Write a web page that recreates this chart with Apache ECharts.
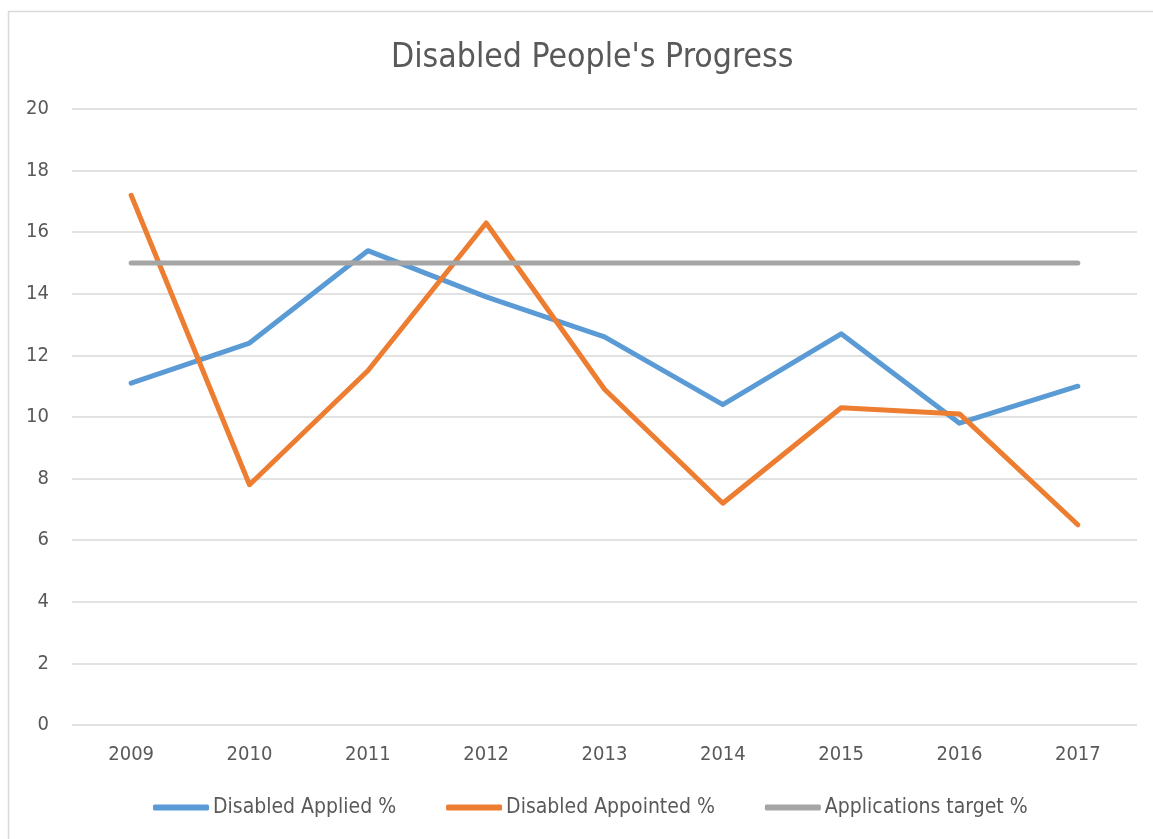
<!DOCTYPE html>
<html>
<head>
<meta charset="utf-8">
<script src="https://cdn.jsdelivr.net/npm/echarts@6/dist/echarts.min.js"></script>
<style>
  html, body { margin: 0; padding: 0; background: #fff; }
  #chart { width: 1153px; height: 839px; }
</style>
</head>
<body>
<div id="chart"></div>
<script>
// Years on the horizontal axis
const years = ['2009', '2010', '2011', '2012', '2013', '2014', '2015', '2016', '2017'];
// Percentages per year
const appliedPct = [11.1, 12.4, 15.4, 13.9, 12.6, 10.4, 12.7, 9.8, 11.0];
const appointedPct = [17.2, 7.8, 11.5, 16.3, 10.9, 7.2, 10.3, 10.1, 6.5];
const targetPct = [15, 15, 15, 15, 15, 15, 15, 15, 15];
const seriesNames = ['Disabled Applied %', 'Disabled Appointed %', 'Applications target %'];
const colors = ['#5B9BD5', '#ED7D31', '#A5A5A5'];

const FONT = '"Liberation Sans Narrow", "DejaVu Sans Condensed", "Noto Sans", sans-serif';
const TEXT = '#595959';

const chart = echarts.init(document.getElementById('chart'), null, { renderer: 'canvas' });

const lineSeries = (name, data, color) => ({
  name, type: 'line', data,
  symbol: 'none',
  lineStyle: { width: 5, color, cap: 'round', join: 'round' },
  itemStyle: { color },
  emphasis: { disabled: true },
  z: 3
});

chart.setOption({
  animation: false,
  backgroundColor: '#fff',
  textStyle: { fontFamily: FONT },
  graphic: [{
    type: 'rect', silent: true, z: -1,
    shape: { x: 8.5, y: 11.5, width: 1200, height: 900 },
    style: { fill: 'none', stroke: '#D9D9D9', lineWidth: 1.5 }
  }],
  title: {
    text: "Disabled People's Progress",
    left: 386, top: 36,
    textStyle: { fontFamily: FONT, fontSize: 33.5, fontWeight: 'normal', color: TEXT }
  },
  legend: {
    bottom: 16, left: 148,
    itemWidth: 56, itemHeight: 6, itemGap: 50,
    icon: 'roundRect',
    textStyle: { fontFamily: FONT, fontSize: 21, color: TEXT, padding: [0, 0, 0, -1] },
    data: seriesNames
  },
  grid: { left: 72, right: 16, top: 109, bottom: 114 },
  xAxis: {
    type: 'category', data: years, boundaryGap: true,
    axisLine: { show: false }, axisTick: { show: false },
    axisLabel: { fontFamily: FONT, fontSize: 20, color: TEXT, margin: 20 }
  },
  yAxis: {
    type: 'value', min: 0, max: 20, interval: 2,
    axisLine: { show: false }, axisTick: { show: false },
    axisLabel: { fontFamily: FONT, fontSize: 20, color: TEXT, margin: 23 },
    splitLine: { lineStyle: { color: '#D9D9D9', width: 1.5 } }
  },
  series: [
    lineSeries(seriesNames[0], appliedPct, colors[0]),
    lineSeries(seriesNames[1], appointedPct, colors[1]),
    lineSeries(seriesNames[2], targetPct, colors[2])
  ]
});
</script>
</body>
</html>
